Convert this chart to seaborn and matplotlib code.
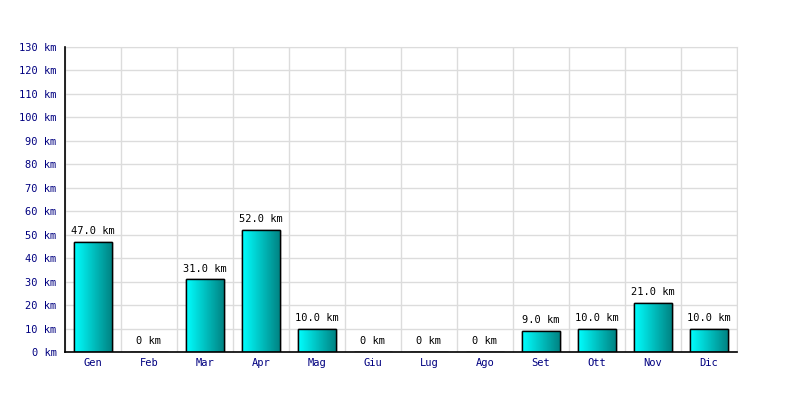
import numpy as np
import pandas as pd
import matplotlib
matplotlib.use("Agg")
import matplotlib.pyplot as plt
from matplotlib.colors import LinearSegmentedColormap
import seaborn as sns

mesi = ["Gen", "Feb", "Mar", "Apr", "Mag", "Giu", "Lug", "Ago", "Set", "Ott", "Nov", "Dic"]
km = [47.0, 0, 31.0, 52.0, 10.0, 0, 0, 0, 9.0, 10.0, 21.0, 10.0]
yticks = list(range(0, 140, 10))

df = pd.DataFrame({"mese": mesi, "km": km})

sns.set_style("white")
plt.rcParams["font.family"] = ["DejaVu Sans Mono"]
fs = 7.5

fig = plt.figure(figsize=(8, 4), dpi=100)
ax = fig.add_axes([0.08125, 0.12, 0.84, 0.7625])

sns.barplot(data=df, x="mese", y="km", ax=ax, color="#00c0c0", width=0.68,
            edgecolor="black", linewidth=1, zorder=3)

# gradient fill inside each bar
cmap = LinearSegmentedColormap.from_list("ciano", ["#00ffff", "#008080"])
grad = np.linspace(0, 1, 256).reshape(1, -1)
for p in ax.patches:
    h = p.get_height()
    if h <= 0:
        continue
    x0 = p.get_x()
    w = p.get_width()
    im = ax.imshow(grad, cmap=cmap, aspect="auto", extent=[x0, x0 + w, 0, h],
                   zorder=3.5, interpolation="bilinear")
    im.set_clip_path(p)
    ax.add_patch(plt.Rectangle((x0, 0), w, h, fill=False, edgecolor="black",
                               linewidth=1, zorder=4))

for i, v in enumerate(km):
    lab = "0 km" if v == 0 else f"{v:.1f} km"
    ax.annotate(lab, (i, v), xytext=(0, 4), textcoords="offset points",
                ha="center", va="bottom", fontsize=fs, color="black", zorder=5)

ax.set_xlim(-0.5, 11.5)
ax.set_ylim(0, 130)
ax.set_yticks(yticks)
ax.set_yticklabels([f"{t} km" for t in yticks])
ax.set_xticks(np.arange(-0.5, 12, 1), minor=True)
ax.grid(True, axis="y", color="#dcdcdc", linewidth=1, zorder=0)
ax.grid(True, axis="x", which="minor", color="#dcdcdc", linewidth=1, zorder=0)
ax.set_xlabel("")
ax.set_ylabel("")
ax.tick_params(axis="both", labelsize=fs, labelcolor="#000080", length=0, pad=4)
ax.tick_params(axis="x", which="minor", length=0)
ax.tick_params(axis="y", length=3, color="#dcdcdc", pad=3)

for s in ["top", "right"]:
    ax.spines[s].set_color("#dcdcdc")
for s in ["left", "bottom"]:
    ax.spines[s].set_color("black")
    ax.spines[s].set_linewidth(1.2)
    ax.spines[s].set_zorder(6)

fig.savefig("out.png", dpi=100)
